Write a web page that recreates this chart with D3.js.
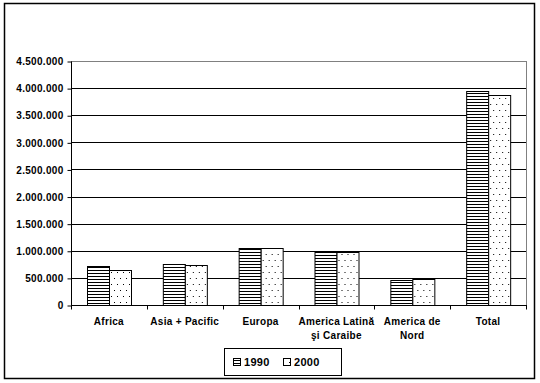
<html>
<head>
<meta charset="utf-8">
<script src="https://d3js.org/d3.v7.min.js"></script>
<style>
  body { margin: 0; background: #fff; }
  text { font-family: "Liberation Sans", Arial, sans-serif; font-weight: bold; font-size: 10px; fill: #000; letter-spacing: 0.3px; }
</style>
</head>
<body>
<svg width="540" height="383"></svg>
<script>
const categories = ["Africa", "Asia + Pacific", "Europa", "America Latină\nşi Caraibe", "America de\nNord", "Total"];
const series = ["1990", "2000"];
const v1990 = [719000, 750000, 1050000, 1001000, 461000, 3952000];
const v2000 = [645000, 738000, 1045000, 972000, 474000, 3873000];
const yTicks = [0, 500000, 1000000, 1500000, 2000000, 2500000, 3000000, 3500000, 4000000, 4500000];

const svg = d3.select("svg");
const plotL = 71, plotR = 526, plotT = 61, plotB = 305;

// patterns for the two series
const defs = svg.append("defs");
const p1 = defs.append("pattern").attr("id", "hlines").attr("patternUnits", "userSpaceOnUse")
  .attr("width", 4).attr("height", 3);
p1.append("rect").attr("width", 4).attr("height", 3).attr("fill", "#fff");
p1.append("rect").attr("y", 0).attr("width", 4).attr("height", 1).attr("fill", "#000");
const p2 = defs.append("pattern").attr("id", "dots").attr("patternUnits", "userSpaceOnUse")
  .attr("width", 6).attr("height", 12);
p2.append("rect").attr("width", 6).attr("height", 12).attr("fill", "#fff");
p2.append("rect").attr("x", 1).attr("y", 2).attr("width", 1).attr("height", 1).attr("fill", "#000");
p2.append("rect").attr("x", 4).attr("y", 8).attr("width", 1).attr("height", 1).attr("fill", "#000");

// outer frame
svg.append("rect").attr("x", 4.5).attr("y", 3.5).attr("width", 530).attr("height", 375)
  .attr("fill", "none").attr("stroke", "#000").attr("stroke-width", 1.5);

const x = d3.scaleBand().domain(categories).range([plotL, plotR]);
const xs = d3.scaleBand().domain(series).range([0, x.bandwidth()]).paddingOuter(0.75);
const y = d3.scaleLinear().domain([0, 4500000]).range([plotB, plotT]);

// gridlines
svg.append("g").selectAll("line").data(yTicks.filter(d => d > 0)).enter().append("line")
  .attr("x1", plotL).attr("x2", plotR)
  .attr("y1", d => Math.round(y(d)) + 0.5).attr("y2", d => Math.round(y(d)) + 0.5)
  .attr("stroke", d => d === 4500000 ? "#808080" : "#000");
svg.append("line").attr("x1", plotR + 0.5).attr("x2", plotR + 0.5).attr("y1", plotT).attr("y2", plotB)
  .attr("stroke", "#808080");

// bars
const rows = categories.map((c, i) => ({ c, vals: [{ s: "1990", v: v1990[i] }, { s: "2000", v: v2000[i] }] }));
const g = svg.append("g").selectAll("g").data(rows).enter().append("g")
  .attr("transform", d => "translate(" + x(d.c) + ",0)");
g.selectAll("rect").data(d => d.vals).enter().append("rect")
  .attr("x", d => Math.round(xs(d.s)) + 0.5)
  .attr("y", d => Math.round(y(d.v)) + 0.5)
  .attr("width", Math.round(xs.bandwidth()))
  .attr("height", d => plotB - Math.round(y(d.v)))
  .attr("fill", d => d.s === "1990" ? "url(#hlines)" : "url(#dots)")
  .attr("stroke", "#000");

// y axis
const yAxis = svg.append("g").attr("transform", "translate(" + (plotL + 0.5) + ",0.5)")
  .call(d3.axisLeft(y).tickValues(yTicks).tickSize(4).tickPadding(4)
    .tickFormat(d => d3.format(",")(d).replace(/,/g, ".")));
yAxis.select(".domain").attr("d", "M0," + plotT + "V" + plotB).attr("stroke", "#000");
yAxis.selectAll("text").style("font-size", "10px").style("font-family", "'Liberation Sans', Arial, sans-serif");

// x axis
const xAxis = svg.append("g").attr("transform", "translate(0," + (plotB + 0.5) + ")");
xAxis.append("line").attr("x1", plotL).attr("x2", plotR + 1).attr("stroke", "#000");
xAxis.selectAll("line.tick").data(d3.range(categories.length + 1)).enter().append("line")
  .attr("class", "tick")
  .attr("x1", i => Math.round(plotL + i * x.step()) + 0.5).attr("x2", i => Math.round(plotL + i * x.step()) + 0.5)
  .attr("y1", 0).attr("y2", 4).attr("stroke", "#000");
const labels = xAxis.selectAll("text").data(categories).enter().append("text")
  .attr("text-anchor", "middle")
  .attr("x", d => x(d) + x.bandwidth() / 2)
  .attr("y", 19);
labels.selectAll("tspan").data(d => d.split("\n")).enter().append("tspan")
  .attr("x", function () { return d3.select(this.parentNode).attr("x"); })
  .attr("dy", (d, i) => i === 0 ? 0 : 14)
  .text(d => d);

// legend
const lg = svg.append("g");
lg.append("rect").attr("x", 224.5).attr("y", 348.5).attr("width", 117).attr("height", 27)
  .attr("fill", "#fff").attr("stroke", "#000");
const lx = d3.scaleOrdinal().domain(series).range([233, 283]);
const li = lg.selectAll("g.item").data(series).enter().append("g").attr("class", "item");
li.append("rect").attr("x", d => lx(d) + 0.5).attr("y", 358.5).attr("width", 7).attr("height", 7)
  .attr("fill", d => d === "1990" ? "url(#hlines)" : "url(#dots)").attr("stroke", "#000");
li.append("text").attr("x", d => lx(d) + 11).attr("y", 366).style("font-size", "11px").text(d => d);
</script>
</body>
</html>
